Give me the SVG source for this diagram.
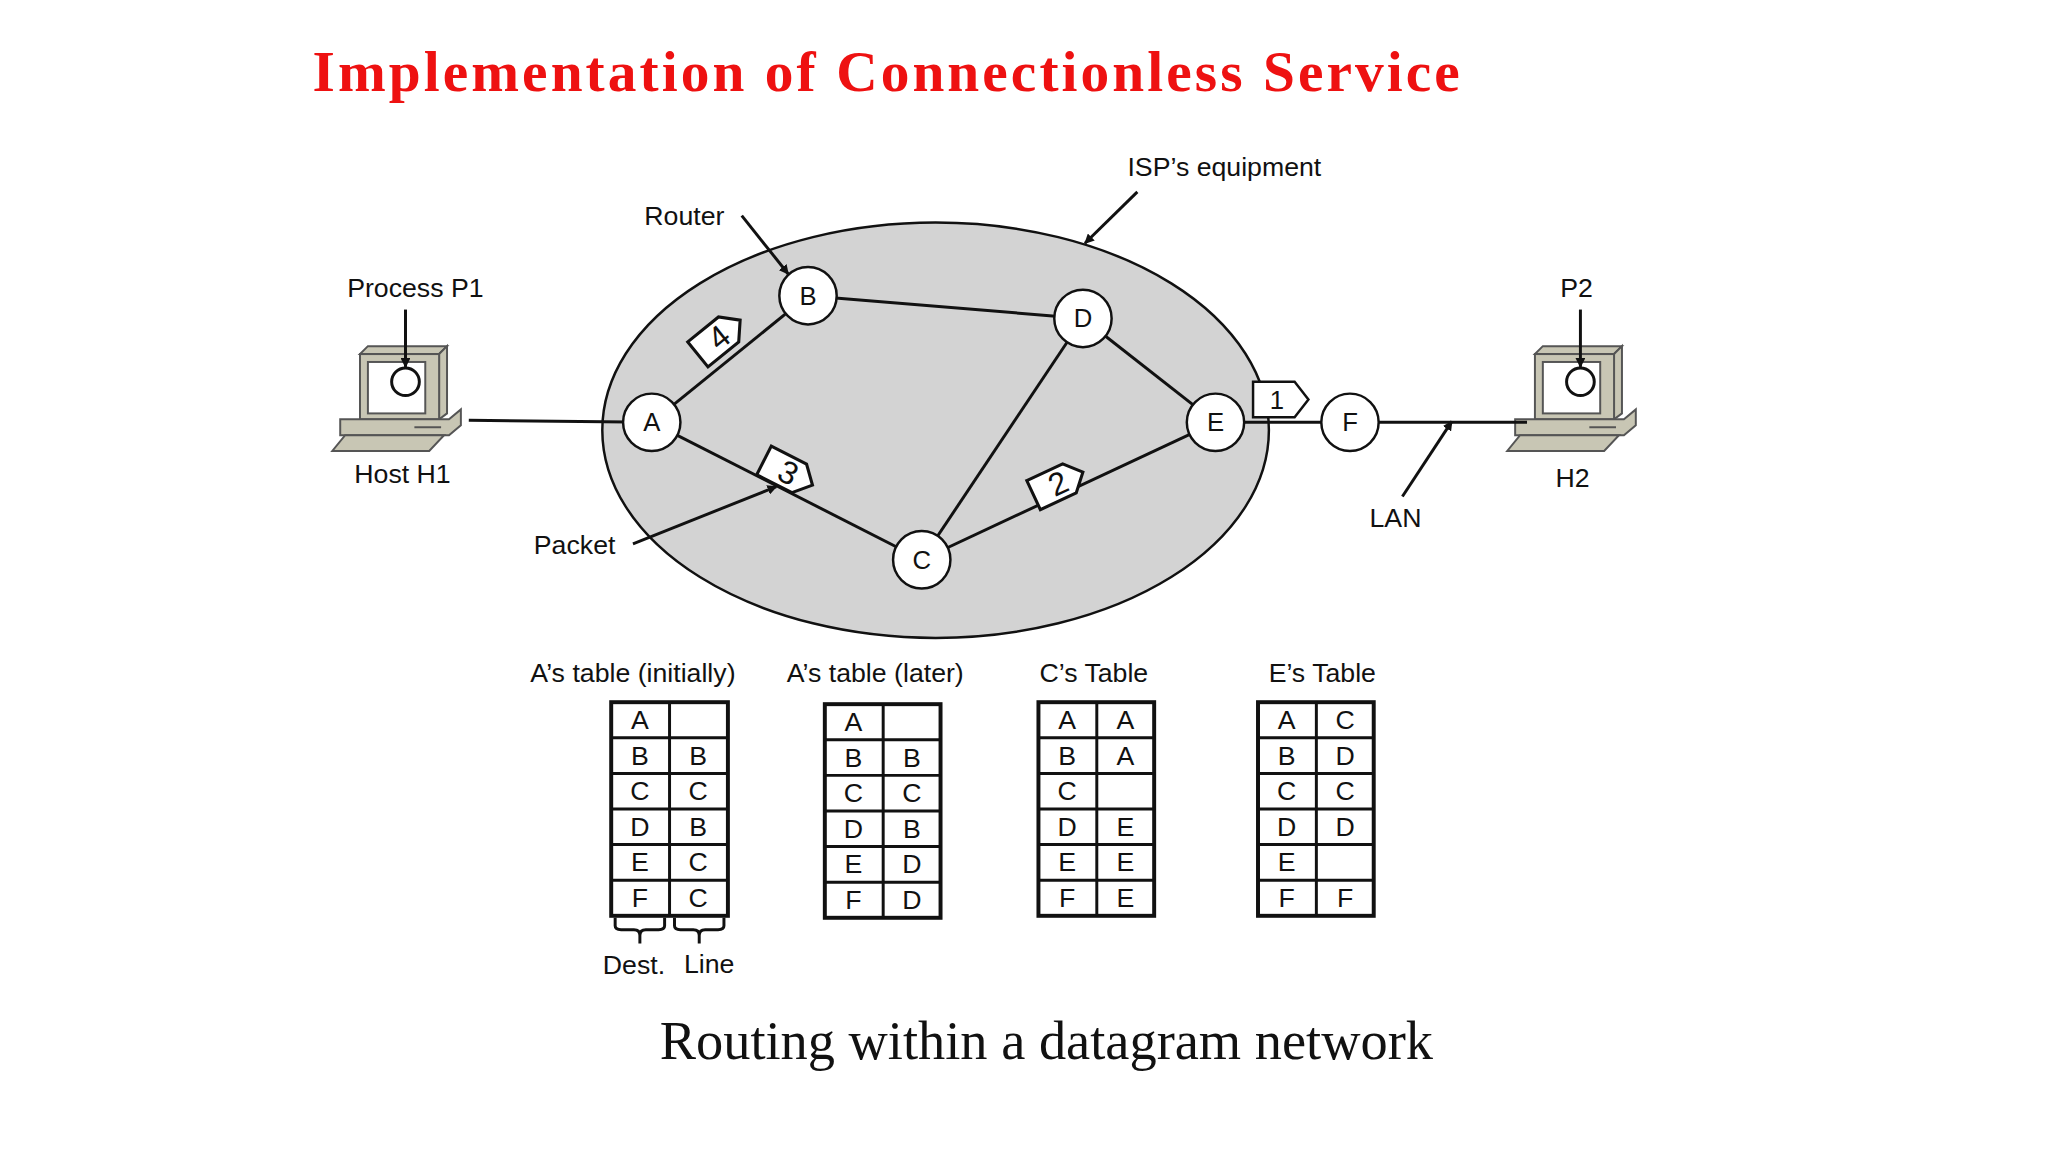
<svg xmlns="http://www.w3.org/2000/svg" width="2048" height="1152" viewBox="0 0 2048 1152">
<defs>
<style>
.t{font-family:"Liberation Sans",Arial,sans-serif;font-size:27px;fill:#111;text-anchor:middle}
.n{fill:#fff;stroke:#111;stroke-width:2.5}
.nl{font-family:"Liberation Sans",Arial,sans-serif;font-size:26px;fill:#111;text-anchor:middle;dominant-baseline:central}
.ln{stroke:#111;stroke-width:3;fill:none}
.ar{stroke:#111;stroke-width:3;fill:none;marker-end:url(#ah)}
.cell{fill:#fff;stroke:#111;stroke-width:4}
.ct{font-family:"Liberation Sans",Arial,sans-serif;font-size:27px;fill:#111;text-anchor:middle;dominant-baseline:central}
.pk{fill:#fff;stroke:#111;stroke-width:2.5}
.pc{fill:#c8c6b4;stroke:#555;stroke-width:2}
</style>
<marker id="ah" markerWidth="10" markerHeight="10" refX="9" refY="5" orient="auto" markerUnits="userSpaceOnUse"><path d="M0,0 L10,5 L0,10 z" fill="#111"/></marker>
<g id="pcicon">
<polygon class="pc" points="-30,-38 50,-38 58,-46 -22,-46"/>
<polygon class="pc" points="50,-38 58,-46 58,22 50,28"/>
<rect class="pc" x="-30" y="-38" width="80" height="66"/>
<rect x="-22" y="-30" width="58" height="52" fill="#fff" stroke="#555" stroke-width="2"/>
<polygon class="pc" points="-50,28 60,28 72,18 72,34 60,44 -50,44"/>
<line x1="25" y1="36" x2="52" y2="36" stroke="#555" stroke-width="2"/>
<polygon class="pc" points="-45,44 55,44 40,60 -58,60"/>
</g>
</defs>
<rect width="2048" height="1152" fill="#fff"/>
<g transform="scale(0.989)">
<text x="316" y="92" font-family="Liberation Serif,serif" font-weight="bold" font-size="58" fill="#ee1111" textLength="1160">Implementation of Connectionless Service</text>

<ellipse cx="946" cy="435" rx="337" ry="210" fill="#d3d3d3" stroke="#111" stroke-width="2.5"/>

<g id="hostH1"><use href="#pcicon" x="394" y="396"/><circle cx="410" cy="386" r="14" fill="#fff" stroke="#111" stroke-width="3"/>
<text class="t" x="420" y="300">Process P1</text><text class="t" x="407" y="488">Host H1</text></g>
<g id="hostH2"><use href="#pcicon" x="1582" y="396"/><circle cx="1598" cy="386" r="14" fill="#fff" stroke="#111" stroke-width="3"/>
<text class="t" x="1594" y="300">P2</text><text class="t" x="1590" y="492">H2</text></g>

<g id="connectors">
<line class="ln" x1="474" y1="425" x2="659" y2="427"/>
<line class="ln" x1="659" y1="427" x2="817" y2="299"/>
<line class="ln" x1="659" y1="427" x2="932" y2="566"/>
<line class="ln" x1="817" y1="299" x2="1095" y2="322"/>
<line class="ln" x1="1095" y1="322" x2="1229" y2="427"/>
<line class="ln" x1="1095" y1="322" x2="932" y2="566"/>
<line class="ln" x1="932" y1="566" x2="1229" y2="427"/>
<line class="ln" x1="1229" y1="427" x2="1365" y2="427"/>
<line class="ln" x1="1365" y1="427" x2="1544" y2="427"/>
<line class="ar" x1="750" y1="218" x2="797" y2="277"/>
<line class="ar" x1="1150" y1="194" x2="1097" y2="246"/>
<line class="ar" x1="640" y1="550" x2="785" y2="492"/>
<line class="ar" x1="1418" y1="502" x2="1468" y2="426"/>
<line class="ar" x1="410" y1="313" x2="410" y2="371"/>
<line class="ar" x1="1598" y1="313" x2="1598" y2="371"/>
</g>

<g id="labels">
<text class="t" x="692" y="228">Router</text>
<text class="t" x="1238" y="178">ISP’s equipment</text>
<text class="t" x="581" y="560">Packet</text>
<text class="t" x="1411" y="533">LAN</text>
</g>

<g id="packets">
<g transform="translate(727,341) rotate(-39) scale(1.25)"><polygon class="pk" points="-22,-13 10,-13 22,0 10,13 -22,13"/><text class="nl" x="0" y="0" font-size="20">4</text></g>
<g transform="translate(797,478) rotate(27) scale(1.25)"><polygon class="pk" points="-22,-13 10,-13 22,0 10,13 -22,13"/><text class="nl" x="0" y="0" font-size="20">3</text></g>
<g transform="translate(1070,489) rotate(-25) scale(1.25)"><polygon class="pk" points="-22,-13 10,-13 22,0 10,13 -22,13"/><text class="nl" x="0" y="0" font-size="20">2</text></g>
<g transform="translate(1295,404)"><polygon class="pk" points="-28,-18 14,-18 28,0 14,18 -28,18"/><text class="nl" x="-4" y="0" font-size="24">1</text></g>
</g>

<g id="nodeA"><circle class="n" cx="659" cy="427" r="29"/><text class="nl" x="659" y="427">A</text></g>
<g id="nodeB"><circle class="n" cx="817" cy="299" r="29"/><text class="nl" x="817" y="299">B</text></g>
<g id="nodeD"><circle class="n" cx="1095" cy="322" r="29"/><text class="nl" x="1095" y="322">D</text></g>
<g id="nodeE"><circle class="n" cx="1229" cy="427" r="29"/><text class="nl" x="1229" y="427">E</text></g>
<g id="nodeC"><circle class="n" cx="932" cy="566" r="29"/><text class="nl" x="932" y="566">C</text></g>
<g id="nodeF"><circle class="n" cx="1365" cy="427" r="29"/><text class="nl" x="1365" y="427">F</text></g>

<g id="table1">
<text class="t" x="640" y="690">A’s table (initially)</text>
<rect class="cell" x="618" y="710" width="118" height="216"/>
<path class="ln" stroke-width="4" d="M677,710V926M618,746H736M618,782H736M618,818H736M618,854H736M618,890H736"/>
<text class="ct" x="647" y="728">A</text><text class="ct" x="647" y="764">B</text><text class="ct" x="647" y="800">C</text><text class="ct" x="647" y="836">D</text><text class="ct" x="647" y="872">E</text><text class="ct" x="647" y="908">F</text>
<text class="ct" x="706" y="764">B</text><text class="ct" x="706" y="800">C</text><text class="ct" x="706" y="836">B</text><text class="ct" x="706" y="872">C</text><text class="ct" x="706" y="908">C</text>
<path class="ln" stroke-width="2.5" d="M622,928V936Q622,940 628,940H641Q647,940 647,946V954M647,946Q647,940 653,940H666Q672,940 672,936V928M682,928V936Q682,940 688,940H701Q707,940 707,946V954M707,946Q707,940 713,940H726Q732,940 732,936V928"/>
<text class="t" x="641" y="985">Dest.</text><text class="t" x="717" y="984">Line</text>
</g>

<g id="table2">
<text class="t" x="885" y="690">A’s table (later)</text>
<rect class="cell" x="834" y="712" width="117" height="216"/>
<path class="ln" stroke-width="4" d="M893,712V928M834,748H951M834,784H951M834,820H951M834,856H951M834,892H951"/>
<text class="ct" x="863" y="730">A</text><text class="ct" x="863" y="766">B</text><text class="ct" x="863" y="802">C</text><text class="ct" x="863" y="838">D</text><text class="ct" x="863" y="874">E</text><text class="ct" x="863" y="910">F</text>
<text class="ct" x="922" y="766">B</text><text class="ct" x="922" y="802">C</text><text class="ct" x="922" y="838">B</text><text class="ct" x="922" y="874">D</text><text class="ct" x="922" y="910">D</text>
</g>

<g id="table3">
<text class="t" x="1106" y="690">C’s Table</text>
<rect class="cell" x="1050" y="710" width="117" height="216"/>
<path class="ln" stroke-width="4" d="M1109,710V926M1050,746H1167M1050,782H1167M1050,818H1167M1050,854H1167M1050,890H1167"/>
<text class="ct" x="1079" y="728">A</text><text class="ct" x="1079" y="764">B</text><text class="ct" x="1079" y="800">C</text><text class="ct" x="1079" y="836">D</text><text class="ct" x="1079" y="872">E</text><text class="ct" x="1079" y="908">F</text>
<text class="ct" x="1138" y="728">A</text><text class="ct" x="1138" y="764">A</text><text class="ct" x="1138" y="836">E</text><text class="ct" x="1138" y="872">E</text><text class="ct" x="1138" y="908">E</text>
</g>

<g id="table4">
<text class="t" x="1337" y="690">E’s Table</text>
<rect class="cell" x="1272" y="710" width="117" height="216"/>
<path class="ln" stroke-width="4" d="M1331,710V926M1272,746H1389M1272,782H1389M1272,818H1389M1272,854H1389M1272,890H1389"/>
<text class="ct" x="1301" y="728">A</text><text class="ct" x="1301" y="764">B</text><text class="ct" x="1301" y="800">C</text><text class="ct" x="1301" y="836">D</text><text class="ct" x="1301" y="872">E</text><text class="ct" x="1301" y="908">F</text>
<text class="ct" x="1360" y="728">C</text><text class="ct" x="1360" y="764">D</text><text class="ct" x="1360" y="800">C</text><text class="ct" x="1360" y="836">D</text><text class="ct" x="1360" y="908">F</text>
</g>

<text x="1058" y="1071" font-family="Liberation Serif,serif" font-size="55" fill="#111" text-anchor="middle">Routing within a datagram network</text>
</g>
</svg>
